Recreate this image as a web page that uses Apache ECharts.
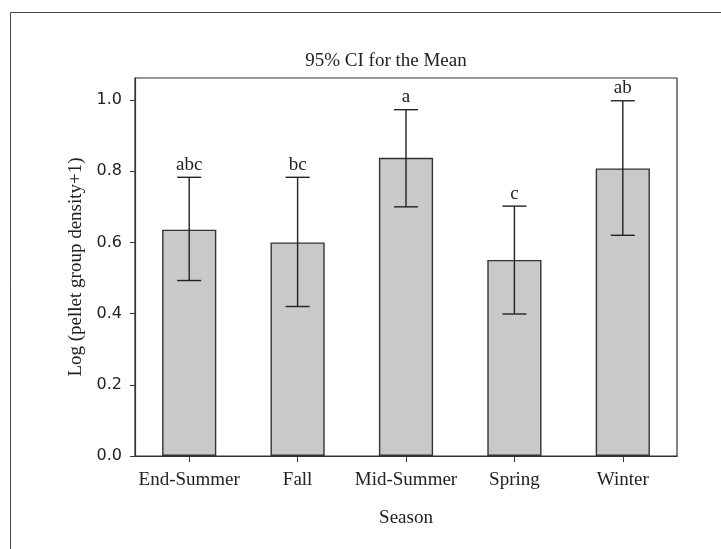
<!DOCTYPE html>
<html><head><meta charset="utf-8">
<script src="https://cdn.jsdelivr.net/npm/echarts@6/dist/echarts.min.js"></script>
<style>html,body{margin:0;padding:0;background:#fff}#c{width:721px;height:549px}</style>
</head><body><div id="c"></div>
<script>
const categories = ['End-Summer', 'Fall', 'Mid-Summer', 'Spring', 'Winter'];
const means = [0.636, 0.600, 0.838, 0.551, 0.808];
const ciLow = [0.493, 0.420, 0.700, 0.399, 0.620];
const ciHigh = [0.783, 0.783, 0.973, 0.702, 0.998];
const letters = ['abc', 'bc', 'a', 'c', 'ab'];
const yTicks = [0, 0.2, 0.4, 0.6, 0.8, 1.0];

const serif = 'Liberation Serif';
const chart = echarts.init(document.getElementById('c'));
const errData = categories.map((c, i) => [i, ciLow[i], ciHigh[i]]);

chart.setOption({
  animation: false,
  backgroundColor: '#fff',
  title: {
    text: '95% CI for the Mean', left: 381, top: 47, textAlign: 'center',
    textStyle: {fontFamily: serif, fontSize: 19, fontWeight: 'normal', color: '#222'}
  },
  graphic: [{
    type: 'rect', shape: {x: 10.5, y: 12.5, width: 760, height: 600},
    style: {fill: 'none', stroke: '#444', lineWidth: 1}, silent: true
  }],
  grid: {left: 135, top: 78, width: 542, height: 378, show: true, borderColor: '#333', borderWidth: 1.2, backgroundColor: 'transparent'},
  xAxis: {
    type: 'category', data: categories,
    axisLine: {show: true, lineStyle: {color: '#333', width: 1.2}},
    axisTick: {show: true, alignWithLabel: true, length: 6, lineStyle: {color: '#333'}},
    axisLabel: {fontFamily: serif, fontSize: 19, color: '#222', margin: 15, interval: 0},
    splitLine: {show: false},
    name: 'Season', nameLocation: 'middle', nameGap: 53,
    nameTextStyle: {fontFamily: serif, fontSize: 19, color: '#222'}
  },
  yAxis: {
    type: 'value', min: 0, max: 1.062, interval: 0.2,
    axisLine: {show: true, lineStyle: {color: '#333', width: 1.2}},
    axisTick: {show: true, length: 5, lineStyle: {color: '#333'}},
    axisLabel: {fontFamily: 'DejaVu Sans', fontSize: 16, color: '#222', margin: 13, showMaxLabel: false,
      formatter: v => yTicks.some(t => Math.abs(t - v) < 1e-6) ? v.toFixed(1) : ''},
    splitLine: {show: false},
    name: 'Log (pellet group density+1)', nameLocation: 'middle', nameGap: 46,
    nameTextStyle: {fontFamily: serif, fontSize: 19, color: '#222'}
  },
  series: [
    {type: 'bar', data: means, barWidth: '50%',
     itemStyle: {color: '#c8c9cb', borderColor: '#333', borderWidth: 1.4}},
    {type: 'custom', data: errData, z: 10,
     renderItem: function (params, api) {
       const x = api.value(0);
       const lo = api.coord([x, api.value(1)]);
       const hi = api.coord([x, api.value(2)]);
       const hw = 12;
       const st = {stroke: '#222', lineWidth: 1.4};
       return {type: 'group', children: [
         {type: 'line', shape: {x1: lo[0], y1: lo[1], x2: hi[0], y2: hi[1]}, style: st},
         {type: 'line', shape: {x1: lo[0] - hw, y1: lo[1], x2: lo[0] + hw, y2: lo[1]}, style: st},
         {type: 'line', shape: {x1: hi[0] - hw, y1: hi[1], x2: hi[0] + hw, y2: hi[1]}, style: st},
         {type: 'text', x: hi[0], y: hi[1] - 3,
          style: {text: letters[params.dataIndex], fontFamily: serif, fontSize: 19, fill: '#222',
                  align: 'center', verticalAlign: 'bottom'}}
       ]};
     }}
  ]
});
</script></body></html>
